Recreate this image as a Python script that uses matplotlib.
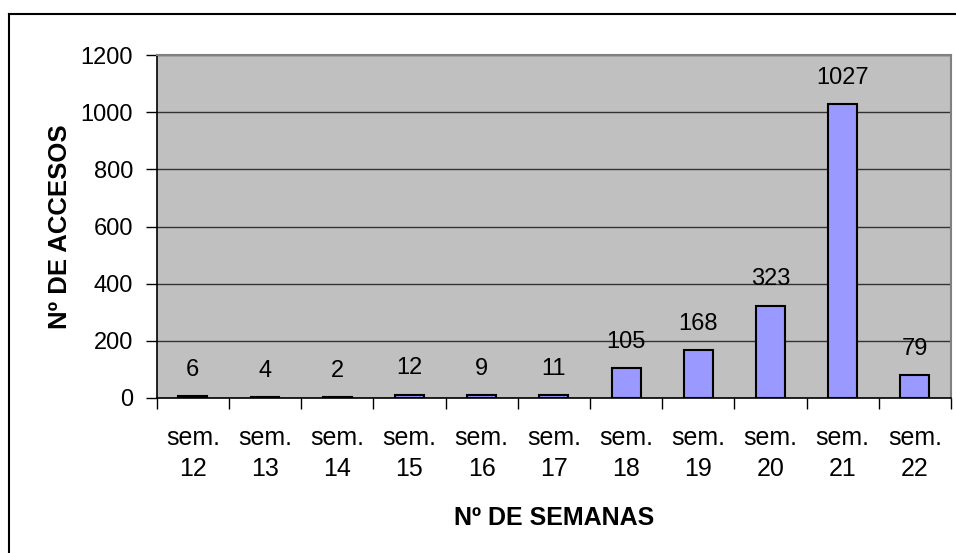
import numpy as np
import matplotlib.pyplot as plt
from matplotlib.lines import Line2D

plt.rcParams["font.family"] = ["Liberation Sans", "DejaVu Sans"]

semanas = ["sem.\n12", "sem.\n13", "sem.\n14", "sem.\n15", "sem.\n16", "sem.\n17",
           "sem.\n18", "sem.\n19", "sem.\n20", "sem.\n21", "sem.\n22"]
accesos = [6, 4, 2, 12, 9, 11, 105, 168, 323, 1027, 79]

W, H = 956, 553
FS = 17
fig = plt.figure(figsize=(W / 100, H / 100), dpi=100)
ax = fig.add_axes([156.7 / W, 1 - 398 / H, (951 - 156.7) / W, (398 - 55) / H])
ax.set_facecolor("#C0C0C0")

x = np.arange(len(accesos))
ax.bar(x, accesos, width=0.4, color="#9999FF", edgecolor="black", linewidth=1.5, zorder=3)

for xi, v in zip(x, accesos):
    ax.annotate(str(v), (xi, v), xytext=(0, 11), textcoords="offset points",
                ha="center", va="bottom", fontsize=FS)

ax.set_xlim(-0.5, len(accesos) - 0.5)
ax.set_ylim(0, 1200)
ax.set_yticks(np.arange(0, 1201, 200))
ax.yaxis.grid(True, color="#333333", linewidth=1, zorder=1)
ax.set_axisbelow(True)

ax.set_xticks(x)
ax.set_xticklabels(semanas, fontsize=18, linespacing=1.4)
ax.set_xticks(np.arange(-0.5, len(accesos)), minor=True)
ax.tick_params(axis="x", which="major", length=0, pad=20)
ax.tick_params(axis="x", which="minor", length=8, width=1, color="black")
ax.tick_params(axis="y", labelsize=FS, length=8, width=1, pad=9)

for s in ["left", "bottom"]:
    ax.spines[s].set_color("black")
    ax.spines[s].set_linewidth(1.2)
for s in ["top", "right"]:
    ax.spines[s].set_color("#808080")
    ax.spines[s].set_linewidth(1.5)

ax.set_xlabel("Nº DE SEMANAS", fontsize=18, fontweight="bold", labelpad=18)
ax.set_ylabel("Nº DE ACCESOS", fontsize=18.5, fontweight="bold", labelpad=6)

# chart border (left and top edges visible)
fig.add_artist(Line2D([8.5 / W, 8.5 / W], [0, 1 - 13.5 / H], color="black", linewidth=1.5))
fig.add_artist(Line2D([8.5 / W, 1], [1 - 13.5 / H, 1 - 13.5 / H], color="black", linewidth=1.5))

fig.savefig("out.png", dpi=100)
